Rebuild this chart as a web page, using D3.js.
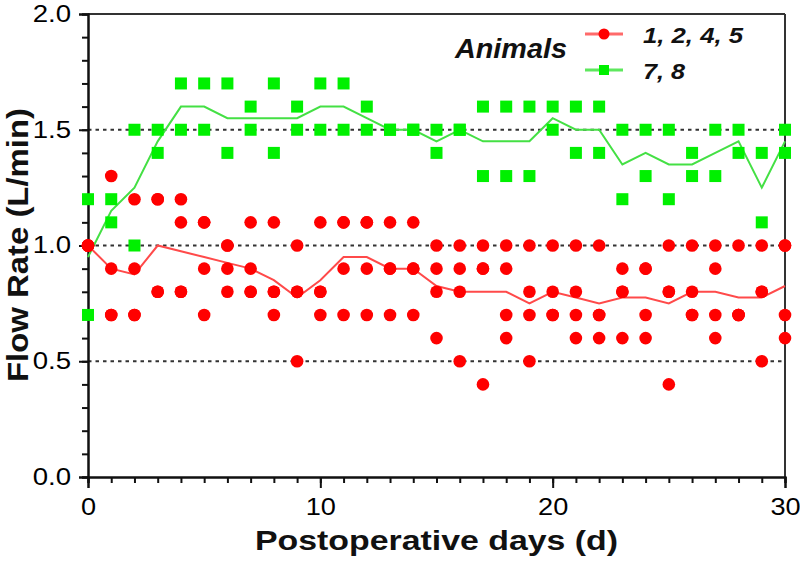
<!DOCTYPE html>
<html>
<head>
<meta charset="utf-8">
<script src="https://cdn.jsdelivr.net/npm/d3@7"></script>
<style>
  body { margin: 0; background: #fff; }
  svg { display: block; }
</style>
</head>
<body>
<div id="chart"></div>
<script>
// days after surgery
var days = [0, 1, 2, 3, 4, 5, 6, 7, 8, 9, 10, 11, 12, 13, 14, 15, 16, 17, 18, 19, 20,
            21, 22, 23, 24, 25, 26, 27, 28, 29, 30];

// animals 1, 2, 4, 5 (four readings per day, L/min)
var redValues = [
  [1.0, 1.0, 1.0, 1.0], [1.3, 0.9, 0.7, 0.7], [1.2, 0.9, 0.7, 0.7], [1.2, 1.2, 0.8, 0.8],
  [1.2, 1.1, 0.8, 0.8], [1.1, 1.1, 0.9, 0.7], [1.0, 1.0, 0.9, 0.8], [1.1, 0.9, 0.8, 0.8],
  [1.1, 0.8, 0.8, 0.7], [1.0, 0.8, 0.8, 0.5], [1.1, 0.8, 0.8, 0.7], [1.1, 1.1, 0.9, 0.7],
  [1.1, 1.1, 0.9, 0.7], [1.1, 0.9, 0.9, 0.7], [1.1, 0.9, 0.9, 0.7], [1.0, 0.9, 0.8, 0.6],
  [1.0, 0.9, 0.8, 0.5], [1.0, 0.9, 0.9, 0.4], [1.0, 0.9, 0.7, 0.6], [1.0, 0.8, 0.7, 0.5],
  [1.0, 0.8, 0.7, 0.7], [1.0, 0.8, 0.7, 0.6], [1.0, 0.7, 0.7, 0.6], [0.9, 0.8, 0.8, 0.6],
  [0.9, 0.9, 0.7, 0.6], [1.0, 0.8, 0.8, 0.4], [1.0, 0.8, 0.7, 0.7], [1.0, 0.9, 0.7, 0.6],
  [1.0, 0.7, 0.7, 0.7], [1.0, 0.8, 0.8, 0.5], [1.0, 1.0, 0.7, 0.6]
];

// animals 7, 8 (two readings per day)
var greenValues = [
  [1.2, 0.7], [1.2, 1.1], [1.5, 1.0], [1.5, 1.4], [1.7, 1.5], [1.7, 1.5], [1.7, 1.4],
  [1.6, 1.5], [1.7, 1.4], [1.6, 1.5], [1.7, 1.5], [1.7, 1.5], [1.6, 1.5], [1.5, 1.5],
  [1.5, 1.5], [1.5, 1.4], [1.5, 1.5], [1.6, 1.3], [1.6, 1.3], [1.6, 1.3], [1.6, 1.5],
  [1.6, 1.4], [1.6, 1.4], [1.5, 1.2], [1.5, 1.3], [1.5, 1.2], [1.4, 1.3], [1.5, 1.3],
  [1.5, 1.4], [1.4, 1.1], [1.5, 1.4]
];

var seriesNames = ["1, 2, 4, 5", "7, 8"];
var yTicks = [0, 0.5, 1.0, 1.5, 2.0];
var xTicks = [0, 10, 20, 30];
var refLines = [0.5, 1.0, 1.5];

var width = 800, height = 571;
// note: "top" is taken by window.top, so prefix these
var plotLeft = 88, plotRight = 785, plotTop = 14, plotBottom = 477;

var svg = d3.select("#chart").append("svg")
            .attr("width", width)
            .attr("height", height);

var x = d3.scaleLinear().domain([0, 30]).range([plotLeft, plotRight]);
var y = d3.scaleLinear().domain([0, 2]).range([plotBottom, plotTop]);

// stretch text a bit, the original font is wider than Arial
function widen(sel, k) {
  sel.each(function() {
    var w = this.getComputedTextLength();
    d3.select(this).attr("textLength", w * k).attr("lengthAdjust", "spacingAndGlyphs");
  });
}

// dotted reference lines
svg.selectAll("line.ref")
   .data(refLines)
   .enter()
   .append("line")
   .attr("class", "ref")
   .attr("x1", plotLeft)
   .attr("x2", plotRight)
   .attr("y1", function(d) { return y(d); })
   .attr("y2", function(d) { return y(d); })
   .style("stroke", "#333")
   .style("stroke-width", 2)
   .style("stroke-dasharray", "3.5,4");

// frame top + right
svg.append("line")
   .attr("x1", plotLeft).attr("x2", plotRight)
   .attr("y1", plotTop).attr("y2", plotTop)
   .style("stroke", "#333").style("stroke-width", 2);
svg.append("line")
   .attr("x1", plotRight).attr("x2", plotRight)
   .attr("y1", plotTop).attr("y2", plotBottom)
   .style("stroke", "#333").style("stroke-width", 2);

// axes: minor ticks first, then major ticks with labels
var yMinor = d3.axisLeft(y).tickValues(d3.range(0, 2.01, 0.1)).tickSize(6).tickFormat("");
var yMajor = d3.axisLeft(y).tickValues(yTicks).tickSize(9).tickPadding(8).tickFormat(d3.format(".1f"));
var xMinor = d3.axisBottom(x).tickValues(days).tickSize(6).tickFormat("");
var xMajor = d3.axisBottom(x).tickValues(xTicks).tickSize(11).tickPadding(11).tickFormat(d3.format("d"));

svg.append("g").attr("transform", "translate(" + plotLeft + ",0)").call(yMinor);
var gy = svg.append("g").attr("transform", "translate(" + plotLeft + ",0)").call(yMajor);
svg.append("g").attr("transform", "translate(0," + plotBottom + ")").call(xMinor);
var gx = svg.append("g").attr("transform", "translate(0," + plotBottom + ")").call(xMajor);

svg.selectAll(".domain").style("stroke", "#111").style("stroke-width", 2);
svg.selectAll(".tick line").style("stroke", "#111").style("stroke-width", 2);

gy.selectAll("text")
  .style("font-family", "Liberation Sans, Arial, sans-serif")
  .style("font-size", "23px")
  .style("fill", "#000")
  .call(widen, 1.2);
gx.selectAll("text")
  .style("font-family", "Liberation Sans, Arial, sans-serif")
  .style("font-size", "23px")
  .style("fill", "#000")
  .attr("dy", "0.71em")
  .call(widen, 1.18);

// mean lines
var redMean = days.map(function(d, i) { return [d, d3.mean(redValues[i])]; });
var greenMean = days.map(function(d, i) { return [d, d3.mean(greenValues[i])]; });

var line = d3.line()
             .x(function(d) { return x(d[0]); })
             .y(function(d) { return y(d[1]); });

svg.append("path")
   .datum(greenMean)
   .attr("d", line)
   .style("fill", "none")
   .style("stroke", "#44e044")
   .style("stroke-width", 2);

svg.append("path")
   .datum(redMean)
   .attr("d", line)
   .style("fill", "none")
   .style("stroke", "#ff4a4a")
   .style("stroke-width", 2);

// individual points
var greenPts = [];
days.forEach(function(d, i) {
  greenValues[i].forEach(function(v) { greenPts.push([d, v]); });
});
var redPts = [];
days.forEach(function(d, i) {
  redValues[i].forEach(function(v) { redPts.push([d, v]); });
});

svg.selectAll("rect.green")
   .data(greenPts)
   .enter()
   .append("rect")
   .attr("class", "green")
   .attr("x", function(d) { return x(d[0]) - 6; })
   .attr("y", function(d) { return y(d[1]) - 6; })
   .attr("width", 12)
   .attr("height", 12)
   .style("fill", "#00f000");

svg.selectAll("circle.red")
   .data(redPts)
   .enter()
   .append("circle")
   .attr("class", "red")
   .attr("cx", function(d) { return x(d[0]); })
   .attr("cy", function(d) { return y(d[1]); })
   .attr("r", 6.3)
   .style("fill", "#ff0000");

// axis titles
svg.append("text")
   .attr("x", (plotLeft + plotRight) / 2)
   .attr("y", 550)
   .attr("text-anchor", "middle")
   .style("font-family", "Liberation Sans, Arial, sans-serif")
   .style("font-weight", "bold")
   .style("font-size", "28px")
   .style("fill", "#111")
   .text("Postoperative days (d)")
   .attr("textLength", 363)
   .attr("lengthAdjust", "spacingAndGlyphs");

svg.append("text")
   .attr("transform", "translate(28,245) rotate(-90)")
   .attr("text-anchor", "middle")
   .style("font-family", "Liberation Sans, Arial, sans-serif")
   .style("font-weight", "bold")
   .style("font-size", "29px")
   .style("fill", "#111")
   .text("Flow Rate (L/min)")
   .attr("textLength", 274)
   .attr("lengthAdjust", "spacingAndGlyphs");

// legend
var legend = svg.append("g");

legend.append("text")
   .attr("x", 455)
   .attr("y", 58)
   .style("font-family", "Liberation Sans, Arial, sans-serif")
   .style("font-weight", "bold")
   .style("font-style", "italic")
   .style("font-size", "27px")
   .style("fill", "#111")
   .text("Animals")
   .attr("textLength", 112)
   .attr("lengthAdjust", "spacingAndGlyphs");

var legendY = [34, 70];
var legendLine = ["#ff6a6a", "#5ee85e"];
var legendFill = ["#ff0000", "#00f000"];
var legendLen = [100, 42];

seriesNames.forEach(function(name, i) {
  legend.append("line")
        .attr("x1", 585).attr("x2", 623)
        .attr("y1", legendY[i]).attr("y2", legendY[i])
        .style("stroke", legendLine[i])
        .style("stroke-width", 3);
  if (i == 0) {
    legend.append("circle")
          .attr("cx", 604).attr("cy", legendY[i]).attr("r", 5.5)
          .style("fill", legendFill[i]);
  } else {
    legend.append("rect")
          .attr("x", 599).attr("y", legendY[i] - 5)
          .attr("width", 10).attr("height", 10)
          .style("fill", legendFill[i]);
  }
  legend.append("text")
        .attr("x", 643)
        .attr("y", legendY[i] + 9)
        .style("font-family", "Liberation Sans, Arial, sans-serif")
        .style("font-weight", "bold")
        .style("font-style", "italic")
        .style("font-size", "22px")
        .style("fill", "#111")
        .text(name)
        .attr("textLength", legendLen[i])
        .attr("lengthAdjust", "spacingAndGlyphs");
});
</script>
</body>
</html>
